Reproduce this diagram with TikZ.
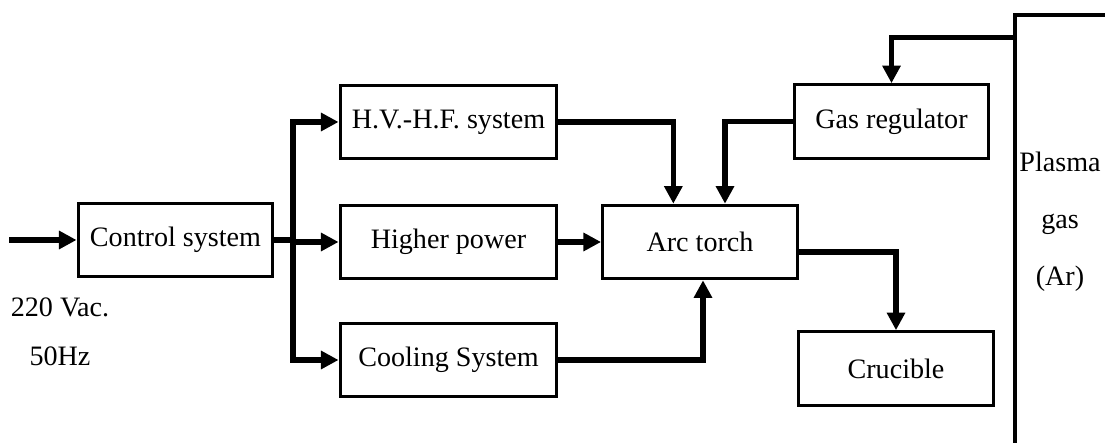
\documentclass[tikz,border=0pt]{standalone}
\usepackage{fontspec}
\setmainfont{Liberation Serif}
\usepackage{tikz}
\usetikzlibrary{arrows.meta,positioning}

\begin{document}
\begin{tikzpicture}[
  x=0.15mm, y=-0.15mm,
  font=\fontsize{12}{14.4}\selectfont,
  blk/.style={draw, line width=1.4pt, align=center, inner sep=3pt, minimum height=11mm, minimum width=29.2mm},
  wide/.style={blk, minimum width=32.5mm},
  arr/.style={-{Triangle[length=7.5pt, width=7.5pt]}, line width=2.4pt},
  ln/.style={line width=2.4pt}
]
\useasboundingbox (0,0) rectangle (1105,443);
\node[blk] (ctrl) at (175.5,240) {Control system};
\node[wide] (hv) at (448.5,122) {H.V.-H.F. system};
\node[wide] (hp) at (448.5,242) {Higher power};
\node[wide] (cool) at (448.5,360) {Cooling System};
\node[blk] (arc) at (700,242) {Arc torch};
\node[blk] (gas) at (891.5,121.5) {Gas regulator};
\node[blk] (cruc) at (896,368.5) {Crucible};
\node[draw, line width=1.4pt, minimum width=16.5mm, minimum height=68.25mm] (plasma) at (1070,242.5) {};
\node[align=center] (plasmatxt) at (1060,222) {Plasma\\[10pt]gas\\[10pt](Ar)};
\node[align=center] (supply) at (60,332) {220 Vac.\\[6.4pt]50Hz};
\coordinate (in) at (9,240);
\coordinate (bus) at (293,240);
\draw[arr] (in) -- (ctrl);
\draw[ln] (ctrl) -- (bus);
\draw[arr] (bus) |- (hv);
\draw[arr] (bus) |- (hp);
\draw[arr] (bus) |- (cool);
\draw[arr] (hv) -| ([xshift=-4mm]arc.north);
\draw[arr] (gas) -| ([xshift=3.75mm]arc.north);
\draw[arr] (hp) -- (arc);
\draw[arr] (cool) -| ([xshift=0.45mm]arc.south);
\draw[arr] ([yshift=-1.5mm]arc.east) -| (cruc.north);
\draw[arr] ([yshift=-3.6mm]plasma.north west) -| (gas.north);
\end{tikzpicture}
\end{document}
